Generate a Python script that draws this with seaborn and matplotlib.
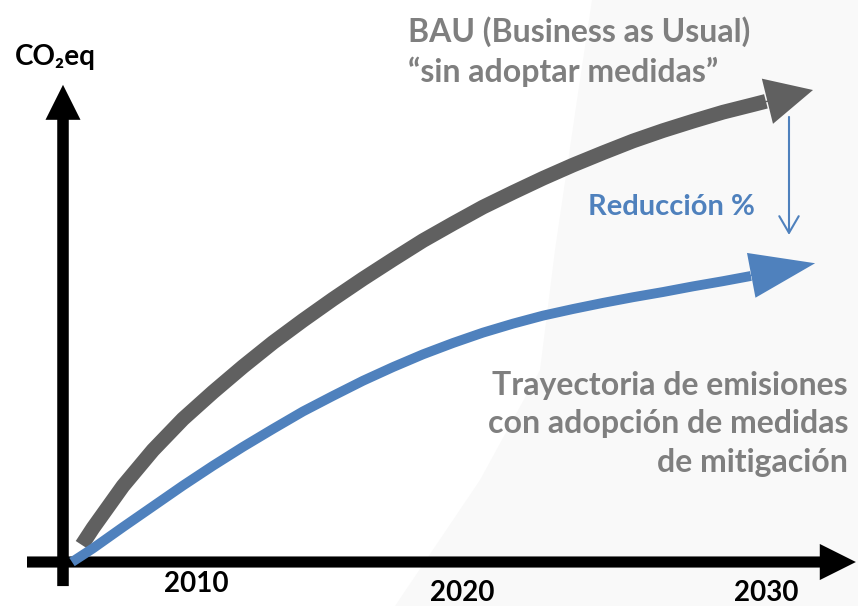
import matplotlib
matplotlib.use("Agg")
import matplotlib.pyplot as plt
from matplotlib.patches import Polygon
import seaborn as sns

# ------------------------------------------------------------------
# Data (x = year, y = CO2eq in arbitrary units)
# ------------------------------------------------------------------
bau_years = [2005.63, 2006, 2007, 2008, 2009, 2010, 2011, 2012, 2013, 2014, 2015, 2016,
             2017, 2018, 2019, 2020, 2021, 2022, 2023, 2024, 2025, 2026, 2027, 2028, 2028.43]
bau_values = [3.6, 7.2, 16.1, 23.7, 30.3, 36.0, 41.4, 46.5, 51.2, 55.7, 60.0, 64.1,
              68.1, 71.7, 75.2, 78.3, 81.3, 84.1, 86.7, 89.2, 91.4, 93.4, 95.3, 96.9, 97.6]
bau_tip = (2030.0, 100.0)

mit_years = [2005.3, 2006, 2007, 2008, 2009, 2010, 2011, 2012, 2013, 2014, 2015, 2016,
             2017, 2018, 2019, 2020, 2021, 2022, 2023, 2024, 2025, 2026, 2027, 2027.93]
mit_values = [0.0, 2.9, 7.4, 11.8, 16.2, 20.4, 24.4, 28.2, 31.9, 35.2, 38.4, 41.3,
              44.0, 46.4, 48.6, 50.5, 52.2, 53.6, 54.9, 56.1, 57.2, 58.4, 59.5, 60.6]
mit_tip = (2030.07, 63.3)

# reduction arrow between the two scenarios, near 2030
reduction_year = 2029.2
reduction_from, reduction_to = 94.3, 69.3

year_labels = ["2010", "2020", "2030"]

GRAY_LINE = "#606060"
GRAY_TEXT = "#7f7f7f"
BLUE = "#4f81bd"

sns.set_theme(style="white")
plt.rcParams["font.family"] = ["Lato", "DejaVu Sans"]

fig = plt.figure(figsize=(8.58, 6.06), dpi=100)
ax = fig.add_axes([0, 0, 1, 1])
ax.set_xlim(2002.9, 2031.5)
ax.set_ylim(-9.32, 119.07)
ax.set_axis_off()

# faint grey backdrop on the right side of the slide
ax.add_patch(Polygon([(592 / 858, 1), (577 / 858, 1 - 100 / 606), (555 / 858, 1 - 250 / 606),
                      (540 / 858, 1 - 370 / 606), (480 / 858, 1 - 480 / 606),
                      (395 / 858, 0), (1, 0), (1, 1)],
                     closed=True, transform=ax.transAxes, fc="#f9f9f9", ec="none", zorder=0))

# axes drawn as thick black arrows
axis_style = dict(mutation_scale=1, fc="black", ec="none", shrinkA=0, shrinkB=0)
ax.annotate("", xy=(2005, 101.1), xytext=(2005, -5.1),
            arrowprops=dict(arrowstyle="simple,head_length=25.2,head_width=25.2,tail_width=8.3",
                            **axis_style), zorder=1)
ax.annotate("", xy=(2031.43, 0), xytext=(2003.8, 0),
            arrowprops=dict(arrowstyle="simple,head_length=26,head_width=26,tail_width=8",
                            **axis_style), zorder=1)

# BAU trajectory
sns.lineplot(x=bau_years, y=bau_values, color=GRAY_LINE, linewidth=10.6,
             solid_capstyle="butt", solid_joinstyle="round", sort=False, ax=ax, zorder=2)
ax.annotate("", xy=bau_tip, xytext=(bau_years[-3], bau_values[-3]),
            arrowprops=dict(arrowstyle="simple,head_length=33.8,head_width=33.5,tail_width=1",
                            mutation_scale=1, fc=GRAY_LINE, ec="none", shrinkA=0, shrinkB=0),
            zorder=2)

# mitigation trajectory
sns.lineplot(x=mit_years, y=mit_values, color=BLUE, linewidth=7.1,
             solid_capstyle="butt", solid_joinstyle="round", sort=False, ax=ax, zorder=3)
ax.annotate("", xy=mit_tip, xytext=(mit_years[-3], mit_values[-3]),
            arrowprops=dict(arrowstyle="simple,head_length=46.8,head_width=32.8,tail_width=1",
                            mutation_scale=1, fc=BLUE, ec="none", shrinkA=0, shrinkB=0),
            zorder=3)

# reduction arrow
ax.annotate("", xy=(reduction_year, reduction_to), xytext=(reduction_year, reduction_from),
            arrowprops=dict(arrowstyle="->,head_length=12,head_width=7", mutation_scale=1,
                            color=BLUE, lw=1.5, shrinkA=0, shrinkB=0), zorder=3)

# texts
ax.text(15 / 858, 1 - 65 / 606, "CO₂eq", transform=ax.transAxes, fontsize=20,
        fontweight="bold", color="black", va="baseline")
ax.text(408 / 858, 1 - 42 / 606, "BAU (Business as Usual)", transform=ax.transAxes,
        fontsize=23, fontweight="bold", color=GRAY_TEXT, va="baseline")
ax.text(408 / 858, 1 - 82 / 606, "“sin adoptar medidas”", transform=ax.transAxes,
        fontsize=23, fontweight="bold", color=GRAY_TEXT, va="baseline")
ax.text(588 / 858, 1 - 215 / 606, "Reducción %", transform=ax.transAxes,
        fontsize=21, fontweight="bold", color=BLUE, va="baseline")
for i, line in enumerate(["Trayectoria de emisiones", "con adopción de medidas", "de mitigación"]):
    ax.text(848 / 858, 1 - (395 + 38.5 * i) / 606, line, transform=ax.transAxes,
            fontsize=23, fontweight="bold", color=GRAY_TEXT, ha="right", va="baseline")

label_x = [196, 462, 766]
label_base = [592, 601, 601]
for lab, lx, lb in zip(year_labels, label_x, label_base):
    ax.text(lx / 858, 1 - lb / 606, lab, transform=ax.transAxes, fontsize=20,
            fontweight="bold", color="black", ha="center", va="baseline")

fig.savefig("out.png", dpi=100, facecolor="white")
